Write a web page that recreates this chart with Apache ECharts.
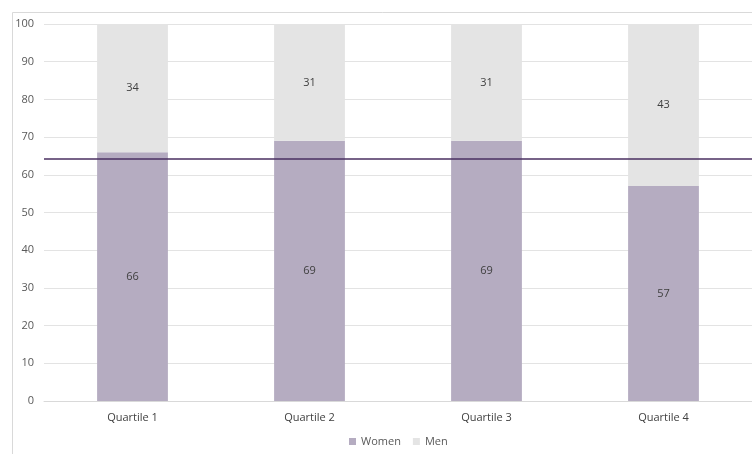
<!DOCTYPE html>
<html>
<head>
<meta charset="utf-8">
<script src="https://cdn.jsdelivr.net/npm/echarts@6/dist/echarts.min.js"></script>
<style>
html,body{margin:0;padding:0;background:#fff;}
#c{width:752px;height:454px;}
</style>
</head>
<body>
<div id="c"></div>
<script>
var categories = ['Quartile 1', 'Quartile 2', 'Quartile 3', 'Quartile 4'];
var women = [66, 69, 69, 57];
var men = [34, 31, 31, 43];
var referenceLine = 64.2;
var yTicks = [0, 10, 20, 30, 40, 50, 60, 70, 80, 90, 100];

var font = 'Open Sans, Liberation Sans, sans-serif';
var chart = echarts.init(document.getElementById('c'));
chart.setOption({
  animation: false,
  backgroundColor: '#fff',
  textStyle: {fontFamily: font},
  graphic: [{
    type: 'rect', left: 10, top: 10,
    shape: {width: 760, height: 460},
    style: {fill: 'none', stroke: '#d9d9d9', lineWidth: 1},
    silent: true, z: -1
  }],
  grid: {left: 44, right: 0, top: 24, bottom: 53},
  legend: {
    bottom: 2, left: 344,
    itemWidth: 7, itemHeight: 7, itemGap: 12,
    icon: 'rect',
    textStyle: {color: '#595959', fontSize: 11, fontFamily: font},
    data: ['Women', 'Men']
  },
  xAxis: {
    type: 'category', data: categories,
    axisLine: {lineStyle: {color: '#d9d9d9'}},
    axisTick: {show: false},
    axisLabel: {color: '#404040', fontSize: 11, margin: 11, fontFamily: font}
  },
  yAxis: {
    type: 'value', min: yTicks[0], max: yTicks[yTicks.length - 1], interval: 10,
    axisLine: {show: false}, axisTick: {show: false},
    splitLine: {lineStyle: {color: '#e3e3e3'}},
    axisLabel: {color: '#595959', fontSize: 11, margin: 10, fontFamily: font}
  },
  series: [{
    name: 'Women', type: 'bar', stack: 's', data: women, barWidth: '40%',
    itemStyle: {color: '#b5acc1'},
    label: {show: true, position: 'inside', color: '#404040', fontSize: 11, fontFamily: font},
    markLine: {
      silent: true, symbol: 'none',
      label: {show: false},
      lineStyle: {color: '#4a2f61', width: 1.5, type: 'solid'},
      data: [{yAxis: referenceLine}]
    },
    z: 2
  }, {
    name: 'Men', type: 'bar', stack: 's', data: men, barWidth: '40%',
    itemStyle: {color: '#e4e4e4'},
    label: {show: true, position: 'inside', color: '#404040', fontSize: 11, fontFamily: font},
    z: 2
  }]
});
</script>
</body>
</html>
